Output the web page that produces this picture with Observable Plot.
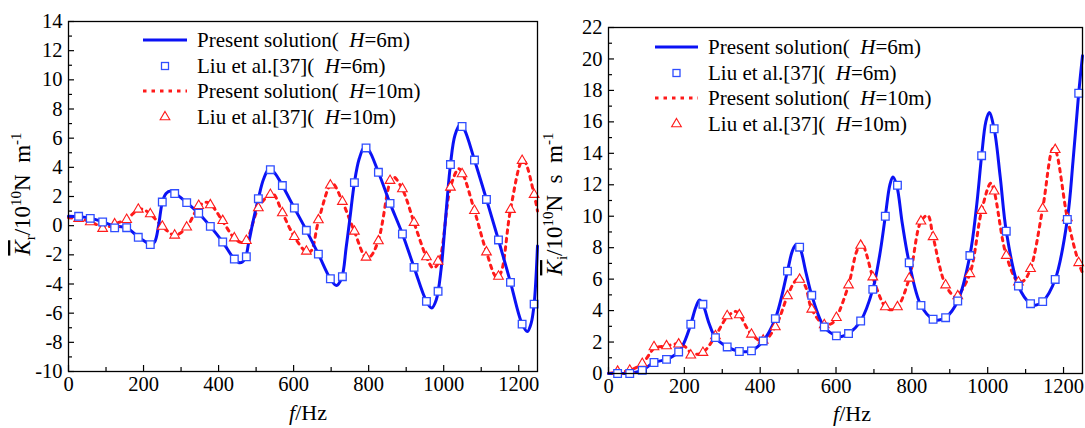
<!DOCTYPE html>
<html><head><meta charset="utf-8">
<script src="https://cdn.jsdelivr.net/npm/d3@7"></script>
<script src="https://cdn.jsdelivr.net/npm/@observablehq/plot@0.6"></script>
<style>
body{margin:0;background:#fff;}
#wrap{position:relative;width:1085px;height:428px;overflow:hidden;background:#fff;}
#wrap svg{position:absolute;top:0;}
#wrap svg text{font-family:'Liberation Serif','DejaVu Serif',serif;}
</style></head><body><div id="wrap"></div>
<script>
// ---------- data (f in Hz, value) ----------
const xMajorTicks = [0, 200, 400, 600, 800, 1000, 1200];
const xMinorTicks = [100, 300, 500, 700, 900, 1100];
const krMajorTicks = [-10, -8, -6, -4, -2, 0, 2, 4, 6, 8, 10, 12, 14];
const kiMajorTicks = [0, 2, 4, 6, 8, 10, 12, 14, 16, 18, 20, 22];

// Left panel: real part Kr
const krLine6 = [[0,0.65],[30,0.62],[60,0.5],[90,0.27],[120,0.0],[155,-0.15],[185,-0.75],[205,-1.1],[220,-1.32],[230,-1.1],[240,0.0],[250,1.6],[260,2.2],[272,2.38],[285,2.2],[315,1.58],[347,0.85],[378,-0.05],[411,-1.12],[442,-2.29],[457,-2.55],[470,-2.3],[480,-1.2],[492,0.3],[506,1.85],[520,3.2],[535,3.9],[550,3.6],[570,2.75],[602,1.21],[634,-0.32],[666,-1.95],[698,-3.64],[714,-4.1],[728,-3.6],[740,-1.5],[750,0.5],[762,2.95],[775,4.6],[789,5.4],[800,5.2],[826,3.66],[857,1.53],[890,-0.57],[921,-2.86],[954,-5.19],[968,-5.65],[980,-5.1],[993,-3.0],[1005,0.5],[1018,4.19],[1030,6.2],[1044,6.93],[1055,6.6],[1082,4.5],[1114,1.8],[1146,-0.98],[1178,-3.89],[1209,-6.75],[1223,-7.25],[1233,-6.7],[1241,-5.38],[1250,-1.4]];
const krPts6 = [[27,0.64],[58,0.5],[91,0.25],[123,-0.15],[155,-0.14],[186,-0.8],[218,-1.3],[250,1.62],[283,2.2],[315,1.58],[347,0.85],[378,-0.05],[411,-1.12],[442,-2.29],[474,-2.13],[506,1.85],[538,3.84],[570,2.75],[602,1.21],[634,-0.32],[666,-1.95],[698,-3.64],[730,-3.5],[762,2.95],[793,5.33],[826,3.66],[857,1.53],[890,-0.57],[921,-2.86],[954,-5.19],[985,-4.5],[1018,4.19],[1049,6.8],[1082,4.5],[1114,1.8],[1146,-0.98],[1178,-3.89],[1209,-6.75],[1241,-5.38]];
const krLine10 = [[0,0.55],[27,0.48],[58,0.28],[91,-0.1],[110,-0.05],[123,0.11],[155,0.45],[180,1.0],[195,1.15],[218,0.8],[250,-0.05],[280,-0.65],[292,-0.6],[315,-0.11],[347,1.3],[365,1.6],[378,1.5],[411,0.3],[442,-0.85],[462,-1.15],[476,-0.9],[506,1.21],[538,2.2],[546,2.2],[570,0.9],[602,-0.76],[634,-1.8],[646,-1.75],[666,0.3],[698,2.8],[706,2.85],[730,1.65],[762,-0.4],[793,-2.2],[805,-2.1],[826,-1.0],[857,3.0],[866,3.35],[890,2.5],[921,0.21],[954,-2.15],[972,-2.9],[987,-2.5],[1018,2.63],[1040,3.9],[1050,3.6],[1082,1.03],[1114,-1.81],[1140,-3.5],[1151,-3.3],[1178,1.1],[1209,4.46],[1216,4.4],[1241,2.13],[1250,1.0]];
const krPts10 = [[27,0.48],[58,0.25],[91,-0.2],[123,0.11],[155,0.41],[186,1.12],[218,0.8],[250,-0.05],[283,-0.66],[315,-0.11],[347,1.37],[378,1.42],[411,0.34],[442,-0.85],[474,-1.03],[506,1.21],[538,2.13],[570,0.87],[602,-0.76],[634,-1.76],[666,0.39],[698,2.77],[730,1.65],[762,-0.39],[793,-2.17],[826,-1.05],[857,3.09],[890,2.52],[921,0.21],[954,-2.15],[985,-2.45],[1018,2.63],[1049,3.55],[1082,1.03],[1114,-1.81],[1146,-3.48],[1178,1.1],[1209,4.46],[1241,2.13]];

// Right panel: imaginary part Ki
const kiLine6 = [[0,0],[24,0],[56,0.02],[89,0.2],[120,0.7],[153,0.9],[185,1.37],[200,2.0],[217,3.13],[230,4.2],[240,4.67],[249,4.4],[265,3.2],[282,2.28],[313,1.69],[345,1.4],[360,1.38],[377,1.44],[408,2.07],[440,3.49],[472,6.51],[485,7.8],[495,8.2],[504,8.03],[520,6.5],[536,4.97],[569,2.96],[601,2.39],[615,2.35],[633,2.54],[665,3.34],[697,5.35],[715,7.5],[730,10.0],[742,12.0],[750,12.5],[760,11.97],[775,9.5],[793,7.04],[824,4.33],[856,3.45],[872,3.4],[889,3.55],[921,4.61],[953,7.5],[970,10.5],[984,13.85],[995,16.0],[1004,16.6],[1017,15.56],[1033,12.5],[1049,9.05],[1081,5.56],[1113,4.44],[1128,4.35],[1145,4.57],[1178,5.98],[1210,9.79],[1225,13.5],[1240,17.82],[1250,20.2]];
const kiPts6 = [[24,0],[56,0],[89,0.2],[120,0.7],[153,0.9],[185,1.37],[217,3.13],[249,4.4],[282,2.28],[313,1.69],[345,1.4],[377,1.44],[408,2.07],[440,3.49],[472,6.51],[504,8.03],[536,4.97],[569,2.96],[601,2.39],[633,2.54],[665,3.34],[697,5.35],[730,10.0],[762,11.97],[793,7.04],[824,4.33],[856,3.45],[889,3.55],[921,4.61],[953,7.5],[984,13.85],[1017,15.56],[1049,9.05],[1081,5.56],[1113,4.44],[1145,4.57],[1178,5.98],[1210,9.79],[1240,17.82]];
const kiLine10 = [[0,0],[24,0.1],[56,0.2],[89,0.63],[110,1.3],[120,1.6],[153,1.75],[185,1.9],[200,1.75],[222,1.25],[249,1.35],[282,2.39],[313,3.6],[335,3.95],[345,3.75],[377,2.49],[408,2.05],[440,2.96],[472,4.93],[490,5.8],[504,6.1],[520,5.5],[536,4.08],[569,3.1],[590,3.2],[601,3.55],[633,5.62],[655,7.8],[668,8.3],[680,7.6],[697,6.13],[730,4.23],[745,4.05],[762,4.23],[793,6.05],[824,9.68],[842,10.05],[856,8.69],[889,5.62],[915,4.85],[921,4.93],[953,6.34],[984,10.36],[1008,12.1],[1017,11.59],[1049,7.5],[1081,5.81],[1095,5.9],[1113,6.66],[1145,10.49],[1172,14.3],[1178,14.23],[1210,9.89],[1240,7.04],[1250,6.4]];
const kiPts10 = [[24,0.13],[56,0.2],[89,0.63],[120,1.69],[153,1.75],[185,1.86],[217,1.16],[249,1.33],[282,2.39],[313,3.66],[345,3.72],[377,2.49],[408,2.11],[440,2.96],[472,4.93],[504,5.98],[536,4.08],[569,3.09],[601,3.55],[633,5.62],[665,8.14],[697,6.13],[730,4.23],[762,4.23],[793,6.05],[824,9.68],[856,8.69],[889,5.62],[921,4.93],[953,6.34],[984,10.36],[1017,11.59],[1049,7.5],[1081,5.81],[1113,6.66],[1145,10.49],[1178,14.23],[1210,9.89],[1240,7.04]];

const legendLabels = [
  ["Present solution(\u2002", "H", "=6m)"],
  ["Liu et al.[37](\u2002", "H", "=6m)"],
  ["Present solution(\u2002", "H", "=10m)"],
  ["Liu et al.[37](\u2002", "H", "=10m)"]
];

// ---------- drawing ----------
const FONT = "'Liberation Serif','DejaVu Serif',serif";
const BLUE = "#0b12f5", SQ = "#2f4dff", RED = "#ff1a1a";
const DASH = "3.5,5";

function panel(o) {
  const yMinor = d3.range(o.yDomain[0] + 1, o.yDomain[1], 2);
  const fx = d => d[0], fy = d => d[1];
  const svg = Plot.plot({
    width: o.width, height: 428,
    marginLeft: o.ml, marginRight: o.mr, marginTop: o.mt, marginBottom: o.mb,
    style: {fontFamily: FONT, fontSize: "20px", color: "black", background: "white", overflow: "visible"},
    x: {domain: [0, 1250]},
    y: {domain: o.yDomain},
    marks: [
      Plot.axisX(xMajorTicks, {tickSize: 0, tickPadding: 5, tickFormat: d => String(d), label: null, fontSize: 20.5}),
      Plot.axisX(xMajorTicks, {tickSize: -6, tickFormat: () => "", label: null, strokeWidth: 1.2}),
      Plot.axisX(xMinorTicks, {tickSize: -4, tickFormat: () => "", label: null, strokeWidth: 1.2}),
      Plot.axisY(o.yMajor, {tickSize: 0, tickPadding: 6, tickFormat: d => String(d), label: null, fontSize: 20.5}),
      Plot.axisY(o.yMajor, {tickSize: -6, tickFormat: () => "", label: null, strokeWidth: 1.2}),
      Plot.axisY(yMinor, {tickSize: -4, tickFormat: () => "", label: null, strokeWidth: 1.2}),
      Plot.line(o.line10, {x: fx, y: fy, stroke: RED, strokeWidth: 3, strokeDasharray: DASH, curve: "catmull-rom"}),
      Plot.line(o.line6, {x: fx, y: fy, stroke: BLUE, strokeWidth: 3, curve: "catmull-rom"}),
      Plot.dot(o.pts10, {x: fx, y: fy, symbol: "triangle", r: 3.6, stroke: RED, fill: "white", strokeWidth: 1.1}),
      Plot.dot(o.pts6, {x: fx, y: fy, symbol: "square", r: 4.3, stroke: SQ, fill: "white", strokeWidth: 1.3}),
      Plot.frame({stroke: "black", strokeWidth: 1.3})
    ]
  });
  const s = d3.select(svg);
  // legend
  const L = o.legend;
  L.rows.forEach((yy, i) => {
    if (i === 0) s.append("line").attr("x1", L.lx1).attr("x2", L.lx2).attr("y1", yy).attr("y2", yy).attr("stroke", BLUE).attr("stroke-width", 3);
    if (i === 2) s.append("line").attr("x1", L.lx1).attr("x2", L.lx2).attr("y1", yy).attr("y2", yy).attr("stroke", RED).attr("stroke-width", 3).attr("stroke-dasharray", DASH);
    const mx = (L.lx1 + L.lx2) / 2;
    if (i === 1) s.append("rect").attr("x", mx - 3.5).attr("y", yy - 3.5).attr("width", 7).attr("height", 7).attr("fill", "white").attr("stroke", SQ).attr("stroke-width", 1.3);
    if (i === 3) s.append("path").attr("d", d3.symbol(d3.symbolTriangle, Math.PI * 3.6 * 3.6)()).attr("transform", `translate(${mx},${yy})`).attr("fill", "white").attr("stroke", RED).attr("stroke-width", 1.1);
    const t = s.append("text").attr("x", L.tx).attr("y", yy + 7).attr("text-anchor", "start")
      .style("font-family", FONT).attr("font-size", 21).attr("fill", "black");
    const lab = legendLabels[i];
    t.append("tspan").text(lab[0]);
    t.append("tspan").attr("font-style", "italic").text(lab[1]);
    t.append("tspan").text(lab[2]);
  });
  // x label
  const xl = s.append("text").attr("x", o.xlab[0]).attr("y", o.xlab[1]).attr("text-anchor", "middle")
    .style("font-family", FONT).attr("font-size", 22).attr("fill", "black");
  xl.append("tspan").attr("font-style", "italic").text("f");
  xl.append("tspan").text("/Hz");
  // y label
  const yl = s.append("text").attr("transform", `translate(${o.ylab[0]},${o.ylab[1]}) rotate(-90)`)
    .attr("text-anchor", "middle").style("font-family", FONT).attr("font-size", 23).attr("fill", "black");
  yl.append("tspan").attr("font-style", "italic").attr("text-decoration", "overline").text("K");
  yl.append("tspan").attr("font-size", 15).attr("dy", 5).text(o.sub);
  yl.append("tspan").attr("dy", -5).text("/10");
  yl.append("tspan").attr("font-size", 15).attr("dy", -9).text("10");
  yl.append("tspan").attr("dy", 9).text(o.unit);
  yl.append("tspan").attr("font-size", 15).attr("dy", -9).text("-1");
  return svg;
}

const left = panel({
  width: 545, ml: 68, mr: 8, mt: 21, mb: 57,
  yDomain: [-10, 14], yMajor: krMajorTicks,
  line6: krLine6, pts6: krPts6, line10: krLine10, pts10: krPts10,
  legend: {lx1: 143, lx2: 187, tx: 197, rows: [40, 66, 91, 117]},
  xlab: [308, 420], ylab: [30, 194], sub: "r", unit: "N\u2002m"
});
const right = panel({
  width: 540, ml: 63, mr: 3, mt: 27, mb: 55,
  yDomain: [0, 22], yMajor: kiMajorTicks,
  line6: kiLine6, pts6: kiPts6, line10: kiLine10, pts10: kiPts10,
  legend: {lx1: 110, lx2: 153, tx: 163, rows: [47, 73, 98, 124]},
  xlab: [307, 421], ylab: [17, 204], sub: "i", unit: "N\u2002s\u2002m"
});
left.style.left = "0px";
right.style.left = "545px";
document.getElementById("wrap").append(left, right);
</script></body></html>
